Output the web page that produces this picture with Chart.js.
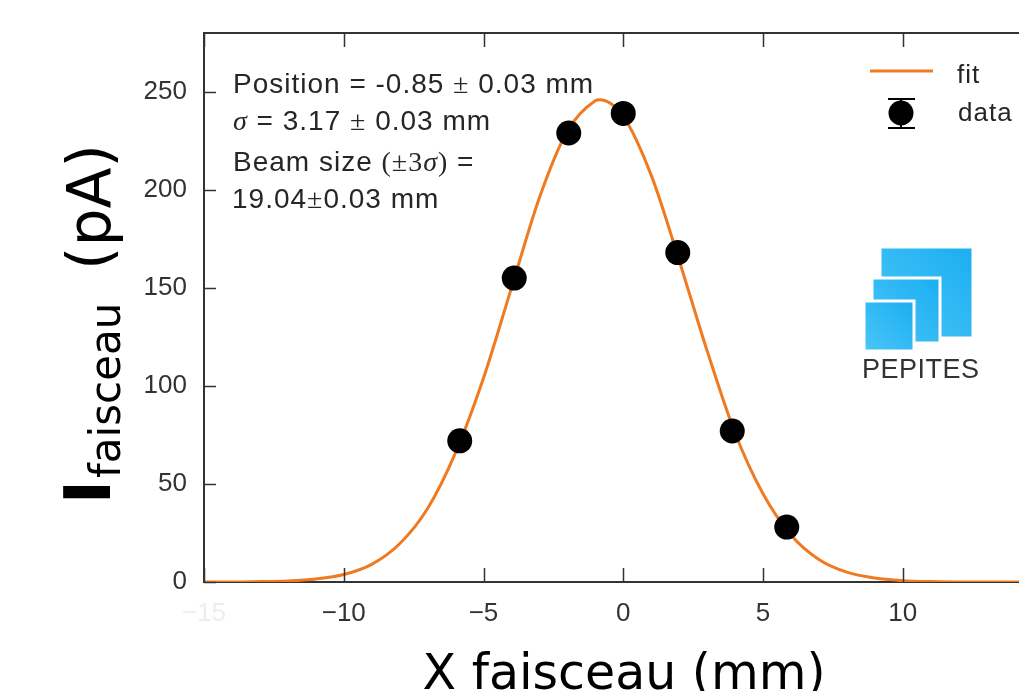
<!DOCTYPE html>
<html><head><meta charset="utf-8">
<script src="https://cdn.jsdelivr.net/npm/chart.js@4"></script>
<style>
html,body{margin:0;padding:0;background:#fff;overflow:hidden;width:1019px;height:691px;}
#wrap{width:1055px;height:691px;position:relative;}
#c{display:block;width:1055px;height:691px;}
</style></head><body>
<div id="wrap"><canvas id="c" width="1055" height="691"></canvas></div>
<script>
// ---- data ----
const fitX = [-15,-14,-13,-12,-11,-10,-9,-8,-7,-6,-5,-4,-3,-2,-1,-0.85,0,1,2,3,4,5,6,7,8,9,10,11,12,13,14,15];
const fitY = [0,0,0.2,0.5,1.5,3.8,9,19.5,37.5,66,104,150,196,230,245.5,246,237.5,207.5,164,118,76,45,24,11.5,5,2,0.7,0.2,0,0,0,0];
const dataX = [-5.85,-3.9,-1.95,0,1.95,3.9,5.85];
const dataY = [72,155,229,239,168,77,28];
const xTicks = [-15,-10,-5,0,5,10];
const yTicks = [0,50,100,150,200,250];
const legendLabels = ['fit','data'];
const xTitle = 'X faisceau (mm)';
const yTitleParts = ['I','faisceau','(pA)'];

const ORANGE = '#f07a20';
const AXIS = '#333333';
const TEXT = '#262626';
const SANS = '"Liberation Sans", Arial, sans-serif';
const SERIF = '"Liberation Serif", "DejaVu Serif", serif';

function fmt(v){ return v < 0 ? '\u2212' + Math.abs(v) : String(v); }

function drawRuns(ctx, x, y, runs){
  for (const r of runs){
    ctx.font = r.f;
    ctx.fillText(r.t, x, y);
    x += ctx.measureText(r.t).width;
  }
}

const decor = {
  id:'decor',
  afterDraw(chart){
    const ctx = chart.ctx, xs = chart.scales.x, ys = chart.scales.y, a = chart.chartArea;
    ctx.save();
    // frame top line + inward ticks
    ctx.strokeStyle = AXIS; ctx.lineWidth = 2;
    ctx.beginPath(); ctx.moveTo(a.left, a.top); ctx.lineTo(a.right, a.top); ctx.stroke();
    ctx.lineWidth = 1.5;
    ctx.beginPath();
    for (const v of xTicks){
      const px = Math.round(xs.getPixelForValue(v)) + 0.5;
      ctx.moveTo(px, a.bottom); ctx.lineTo(px, a.bottom - 14);
      ctx.moveTo(px, a.top); ctx.lineTo(px, a.top + 14);
    }
    for (const v of yTicks){
      const py = Math.round(ys.getPixelForValue(v)) + 0.5;
      ctx.moveTo(a.left, py); ctx.lineTo(a.left + 12, py);
    }
    ctx.stroke();

    // annotation text
    ctx.fillStyle = TEXT; ctx.textBaseline = 'alphabetic'; ctx.textAlign = 'left';
    try { ctx.letterSpacing = '1px'; } catch(e){}
    const f = '28px ' + SANS, fs = '28px ' + SERIF, fi = 'italic 28px ' + SERIF;
    drawRuns(ctx, 233, 93, [{t:'Position = -0.85 ',f:f},{t:'\u00b1',f:fs},{t:' 0.03 mm',f:f}]);
    drawRuns(ctx, 233, 130, [{t:'\u03c3',f:fi},{t:' = 3.17 ',f:f},{t:'\u00b1',f:fs},{t:' 0.03 mm',f:f}]);
    drawRuns(ctx, 233, 171, [{t:'Beam size ',f:f},{t:'(\u00b13',f:fs},{t:'\u03c3',f:fi},{t:')',f:fs},{t:' =',f:f}]);
    drawRuns(ctx, 232, 208, [{t:'19.04',f:f},{t:'\u00b1',f:fs},{t:'0.03 mm',f:f}]);

    // legend
    ctx.strokeStyle = ORANGE; ctx.lineWidth = 3;
    ctx.beginPath(); ctx.moveTo(870, 71); ctx.lineTo(933, 71); ctx.stroke();
    ctx.fillStyle = '#000';
    ctx.beginPath(); ctx.arc(901, 113, 12.5, 0, Math.PI*2); ctx.fill();
    ctx.strokeStyle = '#000'; ctx.lineWidth = 2;
    ctx.beginPath();
    ctx.moveTo(888, 99); ctx.lineTo(915, 99);
    ctx.moveTo(888, 128); ctx.lineTo(915, 128);
    ctx.moveTo(901, 99); ctx.lineTo(901, 128);
    ctx.stroke();
    ctx.fillStyle = TEXT;
    ctx.font = '26px ' + SANS;
    ctx.fillText(legendLabels[0], 957, 83);
    ctx.fillText(legendLabels[1], 958, 121);

    // logo
    try { ctx.letterSpacing = '0px'; } catch(e){}
    const sq = [[880,247,93,91],[872,278,68,65],[864,301,50,50]];
    for (const [x,y,w,h] of sq){
      const g = ctx.createLinearGradient(x, y+h, x+w, y);
      g.addColorStop(0, '#4cc6f6'); g.addColorStop(1, '#1aaef2');
      ctx.fillStyle = g; ctx.fillRect(x, y, w, h);
      ctx.strokeStyle = '#ffffff'; ctx.lineWidth = 3; ctx.strokeRect(x, y, w, h);
    }
    ctx.fillStyle = '#333';
    ctx.font = '27px ' + SANS;
    try { ctx.letterSpacing = '0.5px'; } catch(e){}
    ctx.fillText('PEPITES', 862, 378);
    try { ctx.letterSpacing = '0px'; } catch(e){}

    // x title
    ctx.fillStyle = '#000';
    ctx.font = '49px "DejaVu Sans", sans-serif';
    ctx.textAlign = 'center';
    ctx.fillText(xTitle, 624, 689);

    // y title
    ctx.textAlign = 'left';
    ctx.translate(110, 500);
    ctx.rotate(-Math.PI/2);
    ctx.font = 'bold 64px "DejaVu Sans", sans-serif';
    ctx.fillText(yTitleParts[0], -4, 0);
    ctx.font = '42px "DejaVu Sans", sans-serif';
    ctx.fillText(yTitleParts[1], 22, 10);
    ctx.font = '60px "DejaVu Sans", sans-serif';
    ctx.fillText(yTitleParts[2], 230, 0);
    ctx.restore();
  }
};

new Chart(document.getElementById('c'), {
  data: {
    datasets: [
      {
        type: 'scatter', label: 'data',
        data: dataX.map((x,i)=>({x:x, y:dataY[i]})),
        pointRadius: 12.5, pointHoverRadius: 12.5,
        backgroundColor: '#000', borderColor: '#000', borderWidth: 0,
        order: 0
      },
      {
        type: 'line', label: 'fit',
        data: fitX.map((x,i)=>({x:x, y:fitY[i]})),
        borderColor: ORANGE, borderWidth: 3, pointRadius: 0,
        cubicInterpolationMode: 'monotone', fill: false,
        order: 1
      }
    ]
  },
  options: {
    responsive: false, maintainAspectRatio: false, animation: false,
    devicePixelRatio: 1,
    layout: { padding: { top: 33, right: 0, left: 0, bottom: 0 } },
    plugins: { legend: { display: false }, tooltip: { enabled: false } },
    scales: {
      x: {
        type: 'linear', min: -15, max: 15,
        afterBuildTicks: s => { s.ticks = xTicks.map(v => ({ value: v })); },
        afterFit: s => { s.height = 109; s.paddingLeft = 0; s.paddingRight = 0; },
        grid: { display: false, drawTicks: false },
        border: { display: true, color: AXIS, width: 2 },
        ticks: {
          font: { family: SANS, size: 26 },
          color: c => (c.tick && c.tick.value === -15) ? '#ededed' : '#333333',
          padding: 16, maxRotation: 0, autoSkip: false,
          callback: v => fmt(v)
        }
      },
      y: {
        type: 'linear', min: 0, max: 280,
        afterBuildTicks: s => { s.ticks = yTicks.map(v => ({ value: v })); },
        afterFit: s => { s.width = 204; s.paddingTop = 0; s.paddingBottom = 0; },
        grid: { display: false, drawTicks: false },
        border: { display: true, color: AXIS, width: 2 },
        ticks: {
          font: { family: SANS, size: 26 },
          color: '#333333', padding: 17,
          callback: v => String(v)
        }
      }
    }
  },
  plugins: [decor]
});
</script>
</body></html>
